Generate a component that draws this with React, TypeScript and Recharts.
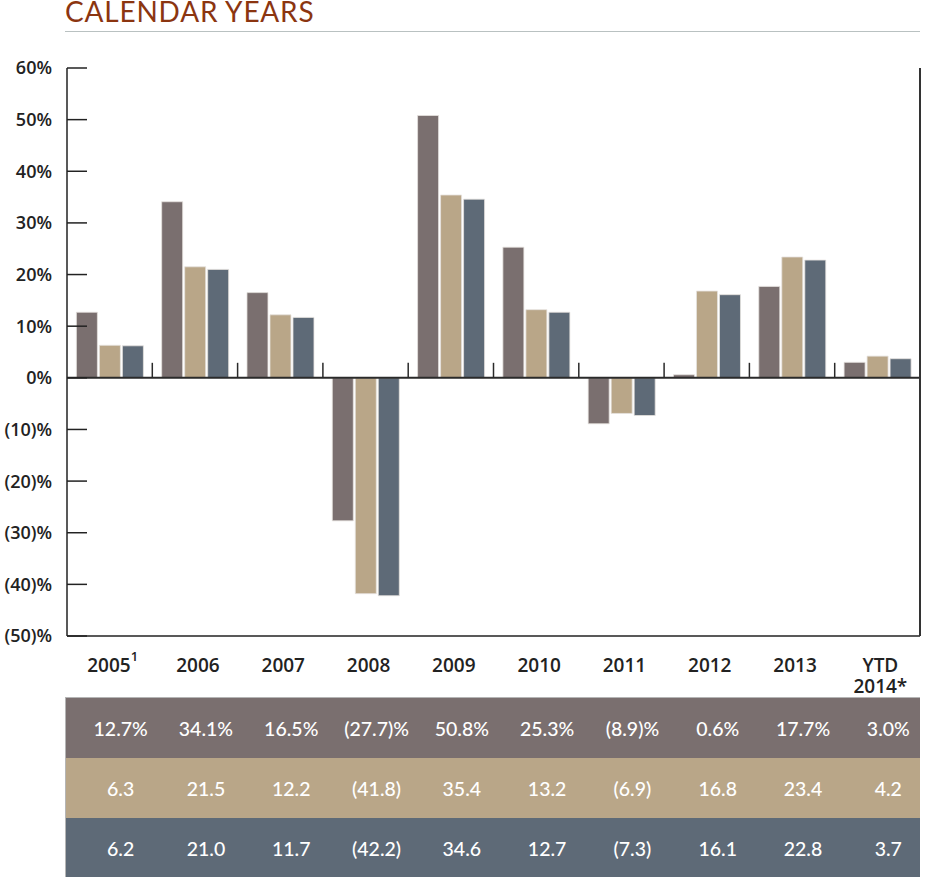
import { BarChart, Bar, XAxis, YAxis, ReferenceLine } from 'recharts';

const categories = ['2005', '2006', '2007', '2008', '2009', '2010', '2011', '2012', '2013', 'YTD 2014*'];
const categoryNotes = ['1', '', '', '', '', '', '', '', '', ''];
const seriesOne = [12.7, 34.1, 16.5, -27.7, 50.8, 25.3, -8.9, 0.6, 17.7, 3.0];
const seriesTwo = [6.3, 21.5, 12.2, -41.8, 35.4, 13.2, -6.9, 16.8, 23.4, 4.2];
const seriesThree = [6.2, 21.0, 11.7, -42.2, 34.6, 12.7, -7.3, 16.1, 22.8, 3.7];
const yTicks = [60, 50, 40, 30, 20, 10, 0, -10, -20, -30, -40, -50];

const data = categories.map((name, i) => ({
  name,
  one: seriesOne[i],
  two: seriesTwo[i],
  three: seriesThree[i],
}));

const COLORS = ['#7a6f6f', '#b9a688', '#5e6a77'];
const FONT = 'Lato, "Open Sans", sans-serif';
const AXIS_FONT = '"Open Sans", Lato, sans-serif';
const INK = '#222222';

const pct = (v: number) => (v < 0 ? `(${Math.abs(v)})%` : `${v}%`);
const cell = (v: number, withPct: boolean) => {
  const s = Math.abs(v).toFixed(1);
  const body = v < 0 ? `(${s})` : s;
  return withPct ? `${body}%` : body;
};

function YTick({ x, y, payload }: any) {
  return (
    <g>
      <line x1={x + 15} x2={x + 35} y1={y} y2={y} stroke={INK} strokeWidth={1.5} />
      <text x={x} y={y} dy="0.36em" textAnchor="end" fill={INK} fontSize={18} fontWeight={600} fontFamily={AXIS_FONT}>
        {pct(payload.value)}
      </text>
    </g>
  );
}

function XTick({ x, y, payload }: any) {
  const lines = String(payload.value).split(' ');
  const note = categoryNotes[categories.indexOf(payload.value)];
  return (
    <text x={x + 3} y={y + 36} textAnchor="middle" fill={INK} fontSize={19} fontWeight={600} fontFamily={AXIS_FONT}>
      {lines.map((l, i) => (
        <tspan key={i} x={x + 3} dy={i === 0 ? 0 : 21}>
          {l}
          {note && i === lines.length - 1 ? (
            <tspan dy={-11} fontSize={13}>{note}</tspan>
          ) : null}
        </tspan>
      ))}
    </text>
  );
}

// zero baseline plus the short category dividers standing on it
function ZeroLine(props: any) {
  const { x1, x2, y1 } = props;
  const step = (x2 - x1) / categories.length;
  return (
    <g>
      <line x1={x1} x2={x2} y1={y1} y2={y1} stroke="#2a2a2a" strokeWidth={2} />
      {categories.slice(1).map((_, i) => {
        const x = x1 + step * (i + 1);
        return <line key={i} x1={x} x2={x} y1={y1 - 15} y2={y1} stroke="#2a2a2a" strokeWidth={1.5} />;
      })}
    </g>
  );
}

export default function App() {
  const rows = [seriesOne, seriesTwo, seriesThree];
  return (
    <div style={{ position: 'absolute', left: 0, top: 0, width: 926, height: 877, background: '#fff', fontFamily: FONT }}>
      <div
        style={{
          position: 'absolute',
          left: 65,
          top: 0,
          fontSize: 28,
          lineHeight: '22px',
          color: '#8b3510',
          letterSpacing: 0.8,
          whiteSpace: 'nowrap',
        }}
      >
        CALENDAR YEARS
      </div>
      <div style={{ position: 'absolute', left: 65, top: 31, width: 855, height: 1, background: '#b9c1c1' }} />

      <div style={{ position: 'absolute', left: 0, top: 0 }}>
        <BarChart
          width={926}
          height={707}
          data={data}
          margin={{ top: 68, right: 0, bottom: 0, left: 0 }}
          barCategoryGap="11%"
          barGap={2}
        >
          <XAxis
            dataKey="name"
            height={71}
            tickSize={0}
            tickMargin={0}
            tickLine={false}
            axisLine={{ stroke: INK, strokeWidth: 1.5 }}
            tick={<XTick />}
            interval={0}
          />
          <XAxis
            xAxisId="top"
            dataKey="name"
            orientation="top"
            height={0}
            tick={false}
            tickLine={false}
            axisLine={{ stroke: INK, strokeWidth: 1.5 }}
          />
          <YAxis
            width={67}
            domain={[-50, 60]}
            ticks={yTicks}
            interval={0}
            tickSize={0}
            tickMargin={15}
            tickLine={false}
            axisLine={{ stroke: INK, strokeWidth: 1.5 }}
            tick={<YTick />}
          />
          <YAxis
            yAxisId="right"
            orientation="right"
            width={6}
            domain={[-50, 60]}
            tick={false}
            tickLine={false}
            axisLine={{ stroke: '#333', strokeWidth: 2 }}
          />
          <Bar dataKey="one" fill={COLORS[0]} stroke="#e6e2de" strokeWidth={0.8} isAnimationActive={false} />
          <Bar dataKey="two" fill={COLORS[1]} stroke="#e6e2de" strokeWidth={0.8} isAnimationActive={false} />
          <Bar dataKey="three" fill={COLORS[2]} stroke="#e6e2de" strokeWidth={0.8} isAnimationActive={false} />
          <ReferenceLine y={0} shape={ZeroLine} />
        </BarChart>
      </div>

      <div
        style={{
          position: 'absolute',
          left: 65,
          top: 697,
          width: 855,
          boxSizing: 'border-box',
          borderTop: '1px solid #b5b5b5',
          borderLeft: '1px solid #b5b5b5',
        }}
      >
        {rows.map((row, r) => (
          <div key={r} style={{ display: 'flex', height: 60, background: COLORS[r], paddingLeft: 1 }}>
            {row.map((v, i) => (
              <div
                key={i}
                style={{
                  width: 85.3,
                  flex: 'none',
                  boxSizing: 'border-box',
                  paddingLeft: 22,
                  display: 'flex',
                  alignItems: 'center',
                  justifyContent: 'center',
                  color: '#fff',
                  fontSize: 19.5,
                  fontWeight: 500,
                }}
              >
                {cell(v, r === 0)}
              </div>
            ))}
          </div>
        ))}
      </div>
    </div>
  );
}
